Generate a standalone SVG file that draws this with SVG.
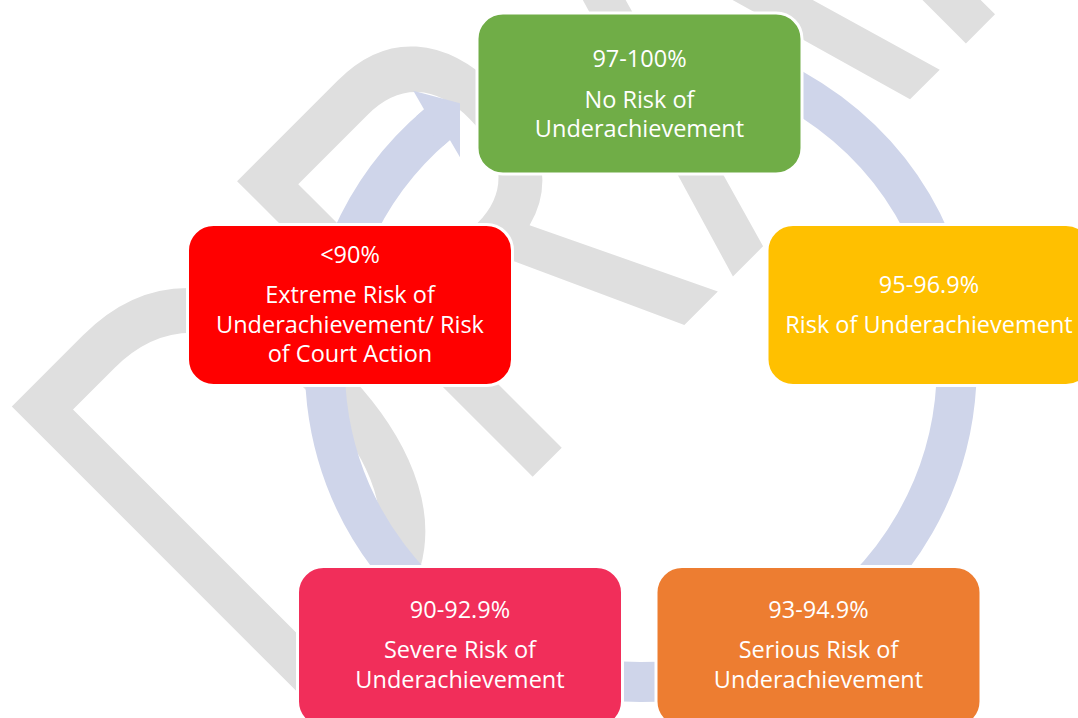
<svg xmlns="http://www.w3.org/2000/svg" width="1078" height="718" viewBox="0 0 1078 718">
  <style>
    .box { stroke: #ffffff; stroke-width: 3; }
    .label { font-family: "Open Sans", "Liberation Sans", sans-serif; font-size: 23.5px; fill: #ffffff; text-anchor: middle; }
    .ring { fill: none; stroke: #cfd5ea; stroke-width: 40; stroke-linecap: butt; }
    .mark { font-family: "Liberation Sans", Arial, sans-serif; font-size: 607.6px; fill: #dfdfdf; }
  </style>

  <rect width="1078" height="718" fill="#ffffff"/>

  <!-- diagonal background watermark -->
  <g id="watermark">
    <text class="mark" x="0" y="0" transform="translate(281.8,727.6) rotate(-45) scale(0.726,1)">DRAFT</text>
  </g>

  <!-- cycle ring with arrowhead into the top node -->
  <g id="connectors">
    <path class="ring" d="M 532.9 69.1 A 316 316 0 1 1 437 124.6"/>
    <polygon fill="#cfd5ea" points="416.2,116.3 424.1,109.4 413.3,90.7 460,103.3 460,157.3 449.9,139.9 442.9,146"/>
  </g>

  <g id="node-no-risk">
    <rect class="box" x="477" y="13" width="325" height="161" rx="26" fill="#70ad47"/>
    <text class="label" x="639.5" y="67">97-100%</text>
    <text class="label" x="639.5" y="108">No Risk of</text>
    <text class="label" x="639.5" y="137">Underachievement</text>
  </g>

  <g id="node-risk">
    <rect class="box" x="767" y="224.5" width="325" height="161" rx="26" fill="#ffc000"/>
    <text class="label" x="929" y="293">95-96.9%</text>
    <text class="label" x="929" y="333">Risk of Underachievement</text>
  </g>

  <g id="node-serious">
    <rect class="box" x="656" y="566.5" width="325" height="161" rx="26" fill="#ed7d31"/>
    <text class="label" x="818.5" y="618">93-94.9%</text>
    <text class="label" x="818.5" y="658">Serious Risk of</text>
    <text class="label" x="818.5" y="688">Underachievement</text>
  </g>

  <g id="node-severe">
    <rect class="box" x="297.5" y="566.5" width="325" height="161" rx="26" fill="#f12e5a"/>
    <text class="label" x="460" y="618">90-92.9%</text>
    <text class="label" x="460" y="658">Severe Risk of</text>
    <text class="label" x="460" y="688">Underachievement</text>
  </g>

  <g id="node-extreme">
    <rect class="box" x="187.5" y="224.5" width="325" height="161" rx="26" fill="#ff0000"/>
    <text class="label" x="350" y="263">&lt;90%</text>
    <text class="label" x="350" y="303">Extreme Risk of</text>
    <text class="label" x="350" y="333">Underachievement/ Risk</text>
    <text class="label" x="350" y="362">of Court Action</text>
  </g>
</svg>
